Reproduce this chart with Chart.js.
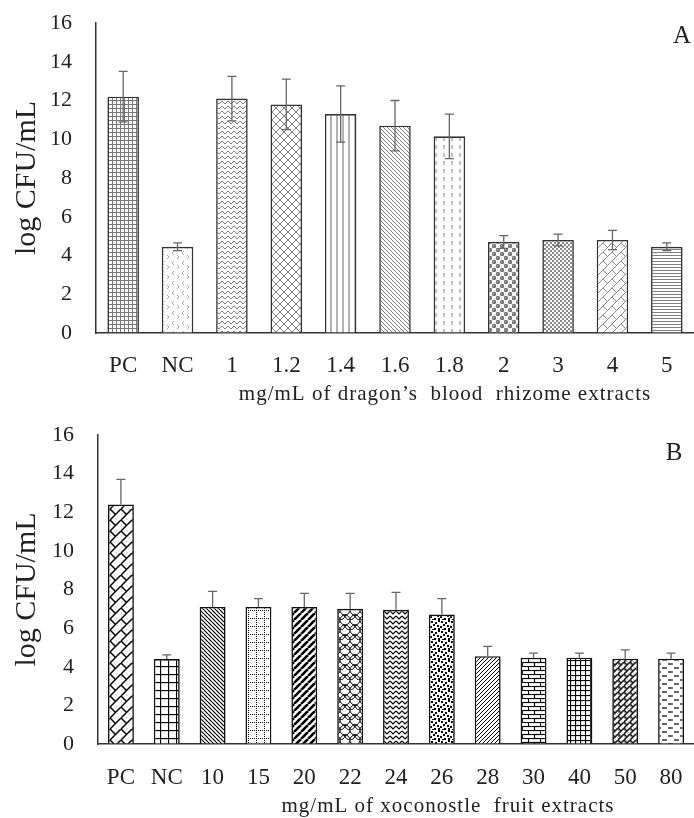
<!DOCTYPE html>
<html>
<head>
<meta charset="utf-8">
<script src="https://cdn.jsdelivr.net/npm/chart.js@4.4.1/dist/chart.umd.min.js"></script>
<style>
  body { margin: 0; background: #fff; }
  #wrapA { position: absolute; left: 0; top: 0; width: 694px; height: 410px; }
  #wrapB { position: absolute; left: 0; top: 410px; width: 694px; height: 408px; }
</style>
</head>
<body>
<div id="wrapA"><canvas id="chartA" width="694" height="410"></canvas></div>
<div id="wrapB"><canvas id="chartB" width="694" height="408"></canvas></div>
<script>
// panel A - dragon's blood rhizome
var catsA = ['PC', 'NC', '1', '1.2', '1.4', '1.6', '1.8', '2', '3', '4', '5']
var valsA = [12.2, 4.45, 12.1, 11.8, 11.3, 10.7, 10.15, 4.7, 4.8, 4.8, 4.45]
var errA = [1.3, 0.2, 1.15, 1.3, 1.45, 1.3, 1.15, 0.33, 0.3, 0.5, 0.2]

// panel B - xoconostle fruit
var catsB = ['PC', 'NC', '10', '15', '20', '22', '24', '26', '28', '30', '40', '50', '80']
var valsB = [12.4, 4.4, 7.1, 7.1, 7.1, 7.0, 6.95, 6.7, 4.55, 4.47, 4.47, 4.42, 4.42]
var errB = [1.3, 0.22, 0.8, 0.43, 0.7, 0.8, 0.9, 0.83, 0.5, 0.24, 0.24, 0.45, 0.29]

var yMax = 16
var yStep = 2

Chart.defaults.font.family = '"Liberation Serif", serif'
Chart.defaults.color = '#222'

// ---- fill patterns ----
var tmp = document.createElement('canvas').getContext('2d')
function tile(w, h, draw) {
  var c = document.createElement('canvas')
  c.width = w; c.height = h
  var g = c.getContext('2d')
  g.fillStyle = '#fff'
  g.fillRect(0, 0, w, h)
  draw(g, w, h)
  return tmp.createPattern(c, 'repeat')
}
function line(g, x1, y1, x2, y2) {
  g.beginPath(); g.moveTo(x1, y1); g.lineTo(x2, y2); g.stroke()
}
function diag(color, s, lw, dir) {
  return tile(s, s, function(g) {
    g.strokeStyle = color; g.lineWidth = lw
    for (var k = -1; k <= 1; k++) {
      if (dir == '\\') line(g, k * s, 0, k * s + s, s)
      else line(g, k * s + s, 0, k * s, s)
    }
  })
}
function grid(color, s, lw) {
  return tile(s, s, function(g) {
    g.strokeStyle = color; g.lineWidth = lw
    line(g, 0.5, 0, 0.5, s); line(g, 0, 0.5, s, 0.5)
  })
}
function zigzag(color, w, h, lw) {
  return tile(w, h, function(g) {
    g.strokeStyle = color; g.lineWidth = lw
    g.beginPath(); g.moveTo(0, 1); g.lineTo(w / 2, h - 1); g.lineTo(w, 1); g.stroke()
  })
}
function weave(color, s, lw) {
  return tile(s, s, function(g) {
    g.strokeStyle = color; g.lineWidth = lw
    for (var k = -1; k <= 1; k++) line(g, k * s + s, 0, k * s, s)
    line(g, 0, 0, s / 2, s / 2)
    line(g, s / 2, s, s, s * 1.5)
    line(g, s / 2 - s, s - s, s - s, s * 1.5 - s)
  })
}

var gray = '#808080'
var patternsA = [
  grid('#777', 4, 1),
  tile(10, 10, function(g) {
    g.strokeStyle = '#aaa'; g.lineWidth = 1
    g.beginPath(); g.moveTo(4, 1); g.lineTo(2, 3); g.lineTo(4, 5); g.stroke()
    g.beginPath(); g.moveTo(7, 5); g.lineTo(9, 7); g.lineTo(7, 9); g.stroke()
  }),
  zigzag(gray, 6, 5, 1),
  tile(8, 8, function(g) {
    g.strokeStyle = gray; g.lineWidth = 1
    line(g, 0, 0, 8, 8); line(g, 8, 0, 0, 8)
  }),
  tile(6, 1, function(g) {
    g.strokeStyle = gray; g.lineWidth = 1.2; line(g, 1, 0, 1, 1)
  }),
  diag(gray, 4, 1, '\\'),
  tile(8, 8, function(g) {
    g.strokeStyle = gray; g.lineWidth = 1; line(g, 4, 1, 4, 5)
  }),
  tile(8, 8, function(g) {
    g.fillStyle = '#777'
    g.beginPath(); g.arc(2, 2, 2.2, 0, Math.PI * 2); g.fill()
    g.beginPath(); g.arc(6, 6, 2.2, 0, Math.PI * 2); g.fill()
    g.fillStyle = '#bbb'
    g.fillRect(1, 1, 1, 1); g.fillRect(5, 5, 1, 1)
  }),
  tile(4, 4, function(g) {
    g.fillStyle = '#888'; g.fillRect(0, 0, 2, 2); g.fillRect(2, 2, 2, 2)
  }),
  weave('#888', 9, 1),
  tile(1, 3, function(g) {
    g.strokeStyle = gray; g.lineWidth = 1; line(g, 0, 0.5, 1, 0.5)
  })
]

var dotsB = [[1, 1], [5, 2], [8, 0], [3, 4], [7, 5], [0, 6], [4, 8], [8, 8], [2, 9]]
var patternsB = [
  weave('#000', 11, 1.5),
  grid('#000', 8, 1.3),
  diag('#000', 4, 1.2, '\\'),
  tile(8, 8, function(g) {
    g.fillStyle = '#000'
    for (var i = 0; i < 8; i += 2) { g.fillRect(i, 0, 1, 1); g.fillRect(0, i, 1, 1) }
  }),
  diag('#000', 7, 2.6, '/'),
  tile(10, 10, function(g) {
    g.strokeStyle = '#000'; g.lineWidth = 1
    g.beginPath(); g.arc(5, 0, 5, 0, Math.PI); g.stroke()
    g.beginPath(); g.arc(0, 5, 5, 0, Math.PI / 2); g.stroke()
    g.beginPath(); g.arc(10, 5, 5, Math.PI / 2, Math.PI); g.stroke()
    g.beginPath(); g.arc(5, 10, 5, Math.PI, Math.PI * 2); g.stroke()
  }),
  zigzag('#000', 6, 5, 1.2),
  tile(10, 10, function(g) {
    g.fillStyle = '#000'
    dotsB.forEach(function(d) { g.fillRect(d[0], d[1], 2, 2) })
  }),
  diag('#000', 4, 1, '/'),
  tile(12, 8, function(g) {
    g.strokeStyle = '#000'; g.lineWidth = 1.2
    line(g, 0, 0.5, 12, 0.5); line(g, 0, 4.5, 12, 4.5)
    line(g, 0.5, 0, 0.5, 4.5); line(g, 6.5, 4.5, 6.5, 8)
  }),
  grid('#000', 5, 1.2),
  weave('#222', 6, 1.6),
  tile(12, 8, function(g) {
    g.strokeStyle = '#000'; g.lineWidth = 1.2
    line(g, 2, 2, 7, 2); line(g, 8, 6, 12, 6); line(g, 0, 6, 1, 6)
  })
]

// ---- error bars + panel text ----
var errorBars = {
  id: 'errorBars',
  afterDatasetsDraw: function(chart) {
    var o = chart.options.plugins.errorBars
    var meta = chart.getDatasetMeta(0)
    var ys = chart.scales.y
    var ctx = chart.ctx
    ctx.save()
    ctx.strokeStyle = '#666'
    ctx.lineWidth = 1.3
    meta.data.forEach(function(bar, i) {
      var v = o.values[i], e = o.errors[i]
      var top = ys.getPixelForValue(v + e)
      var bot = o.upperOnly ? ys.getPixelForValue(v) : ys.getPixelForValue(v - e)
      ctx.beginPath()
      ctx.moveTo(bar.x, top); ctx.lineTo(bar.x, bot)
      ctx.moveTo(bar.x - 4.5, top); ctx.lineTo(bar.x + 4.5, top)
      if (!o.upperOnly) { ctx.moveTo(bar.x - 4.5, bot); ctx.lineTo(bar.x + 4.5, bot) }
      ctx.stroke()
    })
    ctx.restore()
  }
}
var panelText = {
  id: 'panelText',
  afterDraw: function(chart) {
    var o = chart.options.plugins.panelText
    var ctx = chart.ctx
    ctx.save()
    ctx.fillStyle = '#222'
    ctx.textAlign = 'center'
    ctx.textBaseline = 'middle'
    ctx.font = '25px "Liberation Serif"'
    ctx.fillText(o.letter, o.letterX, o.letterY)
    ctx.font = '21px "Liberation Serif"'
    ctx.letterSpacing = '1px'
    ctx.fillText(o.title, o.titleX, o.titleY)
    ctx.restore()
  }
}

// tick marks are kept but invisible, they only push the labels away from the axis
var hidden = 'rgba(0,0,0,0)'

function makeChart(id, cats, vals, errs, pats, opts) {
  return new Chart(document.getElementById(id), {
    type: 'bar',
    data: {
      labels: cats,
      datasets: [{
        data: vals,
        backgroundColor: pats,
        borderColor: opts.border,
        borderWidth: 1.6,
        categoryPercentage: 1,
        barPercentage: opts.barPct
      }]
    },
    options: {
      responsive: false,
      animation: false,
      layout: { padding: { top: opts.padTop, left: 0, right: 0, bottom: 0 } },
      plugins: {
        legend: { display: false },
        tooltip: { enabled: false },
        errorBars: { values: vals, errors: errs, upperOnly: opts.upperOnly },
        panelText: opts.text
      },
      scales: {
        x: {
          grid: { display: true, drawOnChartArea: false, drawTicks: true, tickLength: opts.xPad, color: hidden },
          border: { display: true, color: '#333', width: 1.5 },
          ticks: { font: { size: 23 }, padding: 0, maxRotation: 0, autoSkip: false },
          afterFit: function(s) { s.height = opts.xHeight }
        },
        y: {
          min: 0,
          max: yMax,
          grid: { display: true, drawOnChartArea: false, drawTicks: true, tickLength: 24, color: hidden },
          border: { display: true, color: '#333', width: 1.5 },
          ticks: { stepSize: yStep, font: { size: 22 }, padding: 0 },
          title: { display: true, text: 'log CFU/mL', font: { size: 30 }, padding: { top: 9, bottom: 0 } },
          afterFit: function(s) { s.width = opts.yWidth }
        }
      }
    },
    plugins: [errorBars, panelText]
  })
}

makeChart('chartA', catsA, valsA, errA, patternsA, {
  border: '#333', barPct: 0.58, padTop: 23, xPad: 19, xHeight: 77, yWidth: 96, upperOnly: false,
  text: { letter: 'A', letterX: 682, letterY: 36, title: 'mg/mL of dragon\u2019s  blood  rhizome extracts', titleX: 445, titleY: 394 }
})
makeChart('chartB', catsB, valsB, errB, patternsB, {
  border: '#111', barPct: 0.565, padTop: 25, xPad: 20, xHeight: 74, yWidth: 98, upperOnly: true,
  text: { letter: 'B', letterX: 674, letterY: 43, title: 'mg/mL of xoconostle  fruit extracts', titleX: 448, titleY: 396 }
})
</script>
</body>
</html>
